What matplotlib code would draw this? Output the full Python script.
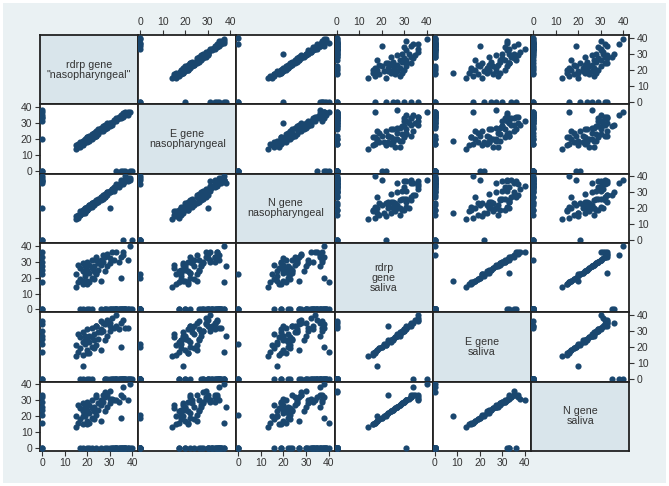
import matplotlib.pyplot as plt
from matplotlib.patches import Rectangle

plt.rcParams['font.family'] = ['Liberation Sans', 'DejaVu Sans']

labels = ['rdrp gene\n"nasopharyngeal"', 'E gene\nnasopharyngeal', 'N gene\nnasopharyngeal',
          'rdrp\ngene\nsaliva', 'E gene\nsaliva', 'N gene\nsaliva']
ticks = [0, 10, 20, 30, 40]

# Ct values per sample, 0 = not detected
rdrp_np = [15, 15, 16, 16, 17, 17, 18, 18, 18, 19, 19, 20, 20, 20, 21, 21, 21, 22, 22, 22,
           23, 23, 24, 24, 25, 25, 26, 26, 27, 27, 28, 28, 29, 29, 30, 30, 31, 32, 33, 34,
           35, 36, 38, 39, 18, 24, 20, 23, 19, 26,
           17, 18, 20, 21, 22, 28, 29, 30, 31, 32, 33, 33, 34, 34, 35, 35, 36, 36, 37, 37,
           38, 38, 31, 32, 35,
           0, 0, 0, 0, 0, 0, 0, 0, 0, 33, 35, 37, 39, 36, 40,
           30, 33, 26, 36, 24, 37, 28]
e_np = [14, 16, 15, 17, 15, 18, 17, 19, 16, 20, 18, 18, 21, 20, 22, 19, 21, 20, 23, 22,
        21, 24, 22, 25, 23, 26, 25, 27, 25, 28, 26, 29, 27, 30, 28, 30, 29, 31, 31, 33,
        33, 34, 35, 37, 19, 22, 21, 24, 18, 26,
        17, 17, 20, 20, 22, 27, 28, 30, 30, 31, 33, 32, 34, 33, 35, 34, 35, 36, 37, 35,
        36, 37, 30, 32, 34,
        20, 31, 33, 35, 37, 38, 34, 0, 0, 0, 0, 0, 0, 0, 0,
        29, 32, 26, 35, 24, 36, 28]
n_np = [13, 15, 16, 14, 18, 16, 17, 19, 18, 20, 17, 21, 19, 20, 22, 20, 21, 23, 21, 22,
        24, 22, 25, 23, 26, 24, 27, 25, 28, 26, 29, 27, 30, 28, 31, 20, 32, 31, 34, 33,
        36, 35, 37, 38, 17, 24, 19, 23, 20, 26,
        16, 19, 19, 22, 23, 27, 30, 30, 32, 32, 34, 33, 34, 35, 36, 35, 37, 36, 38, 37,
        39, 38, 31, 33, 36,
        20, 37, 38, 39, 40, 36, 37, 0, 0, 35, 38, 40, 39, 0, 0,
        30, 33, 27, 36, 24, 38, 28]
rdrp_sal = [14, 22, 28, 17, 26, 19, 24, 29, 16, 27, 21, 25, 30, 18, 23, 28, 17, 26, 31, 20,
            24, 27, 33, 22, 29, 25, 18, 28, 34, 30, 24, 33, 27, 35, 29, 32, 36, 31, 36, 30,
            33, 36, 31, 40, 18, 23, 16, 19, 23, 31,
            0, 0, 0, 0, 0, 0, 0, 0, 0, 0, 0, 0, 0, 0, 0, 0, 0, 0, 0, 0,
            0, 0, 0, 0, 0,
            25, 30, 33, 0, 17, 27, 36, 22, 0, 0, 20, 0, 0, 0, 0,
            0, 0, 0, 34, 31, 0, 0]
e_sal = [14, 21, 28, 17, 26, 19, 23, 29, 15, 27, 22, 24, 31, 18, 23, 27, 16, 26, 32, 20,
         24, 28, 33, 21, 29, 25, 18, 29, 35, 30, 24, 34, 27, 37, 30, 33, 38, 32, 40, 31,
         35, 37, 32, 0, 8, 33, 16, 19, 24, 31,
         0, 0, 0, 0, 0, 0, 0, 0, 0, 0, 0, 0, 0, 0, 0, 0, 0, 0, 0, 0,
         0, 0, 0, 0, 0,
         25, 30, 34, 0, 17, 27, 36, 22, 0, 0, 20, 0, 0, 0, 0,
         35, 33, 36, 0, 33, 32, 0]
n_sal = [13, 20, 27, 16, 25, 18, 23, 28, 15, 26, 20, 24, 29, 17, 22, 27, 16, 25, 30, 19,
         23, 26, 32, 21, 28, 24, 17, 27, 33, 29, 23, 32, 26, 33, 28, 31, 31, 30, 30, 29,
         33, 32, 30, 40, 20, 33, 15, 18, 22, 30,
         0, 0, 0, 0, 0, 0, 0, 0, 0, 0, 0, 0, 0, 0, 0, 0, 0, 0, 0, 0,
         0, 0, 0, 0, 0,
         24, 29, 32, 0, 16, 26, 33, 21, 0, 0, 19, 0, 0, 0, 0,
         36, 0, 0, 38, 0, 0, 35]

data = [rdrp_np, e_np, n_np, rdrp_sal, e_sal, n_sal]

W, H = 669, 486
fig = plt.figure(figsize=(W / 100, H / 100), dpi=100, facecolor='white')
fig.patches.append(Rectangle((3 / W, 3 / H), 663 / W, 480 / H, transform=fig.transFigure,
                             facecolor='#eaf1f3', edgecolor='none', zorder=-10))

left, top = 40, 35
cw, rh = 98.2, 69.3
dot = '#1a476f'

for i in range(6):
    for j in range(6):
        x0 = left + j * cw
        y0 = top + i * rh
        ax = fig.add_axes([x0 / W, 1 - (y0 + rh) / H, cw / W, rh / H])
        ax.set_xlim(-0.9, 42.7)
        ax.set_ylim(-1.7, 41.7)
        for s in ax.spines.values():
            s.set_color('#222222')
            s.set_linewidth(1.3)
        ax.tick_params(which='both', bottom=False, top=False, left=False, right=False,
                       labelbottom=False, labeltop=False, labelleft=False, labelright=False,
                       direction='out', length=3.5, width=0.8, labelsize=7.5, pad=2,
                       colors='#333333')
        ax.set_xticks(ticks)
        ax.set_yticks(ticks)
        if i == j:
            ax.set_facecolor('#d9e5eb')
            ax.text(0.5, 0.5, labels[i], transform=ax.transAxes, ha='center', va='center',
                    fontsize=7.7, color='#333333', linespacing=1.0)
            continue
        ax.set_facecolor('white')
        ax.scatter(data[j], data[i], s=20, color=dot, linewidths=0, zorder=3)
        if i == 0 and j % 2 == 1:
            ax.tick_params(top=True, labeltop=True)
        if i == 5 and j % 2 == 0:
            ax.tick_params(bottom=True, labelbottom=True)
        if j == 0 and i % 2 == 1:
            ax.tick_params(left=True, labelleft=True)
        if j == 5 and i % 2 == 0:
            ax.tick_params(right=True, labelright=True)

fig.savefig('out.png', dpi=100, facecolor='white')
